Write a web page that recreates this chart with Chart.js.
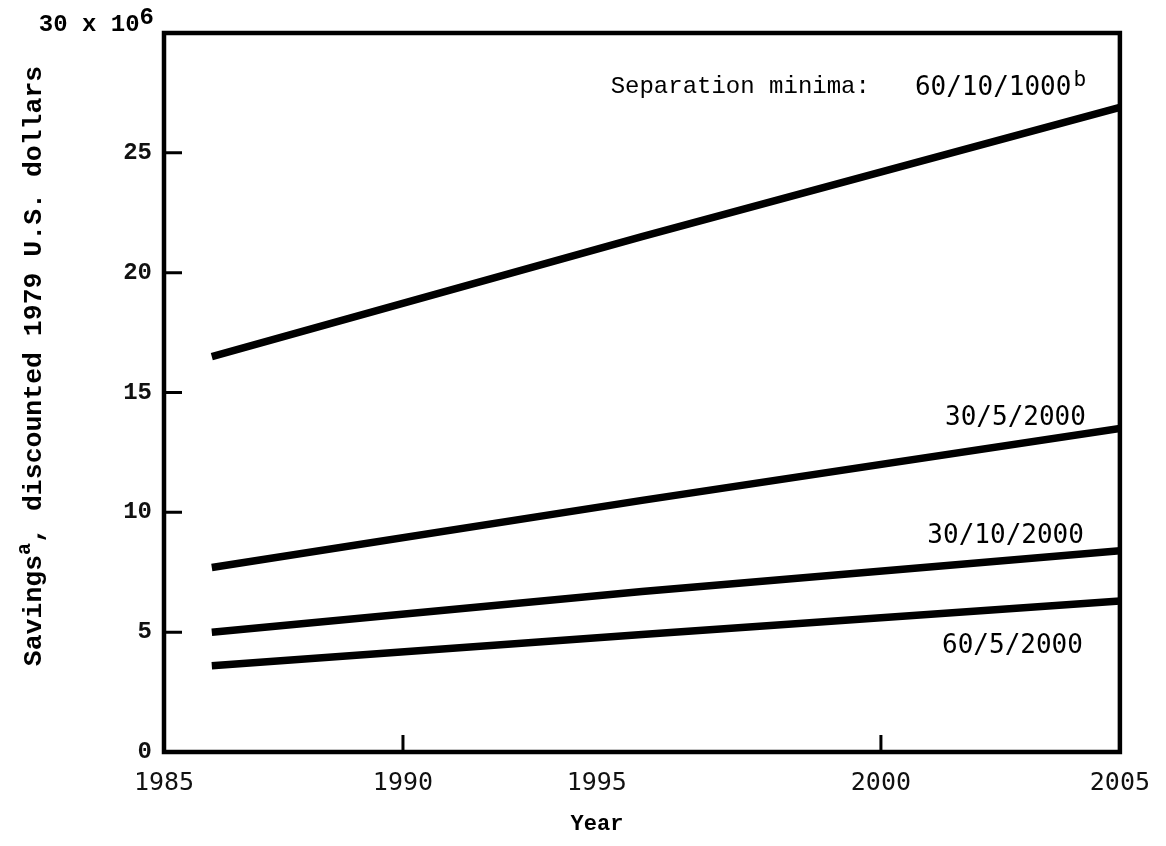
<!DOCTYPE html>
<html><head><meta charset="utf-8">
<script src="https://cdn.jsdelivr.net/npm/chart.js@4"></script>
<style>html,body{margin:0;padding:0;background:#fff;}</style>
</head><body>
<canvas id="c" width="1166" height="846" style="display:block"></canvas>
<script>
// ---- data ----
const years = [1986, 1995, 2005];
const sep60_10_1000 = [16.5, 21.5, 26.9];
const sep30_5_2000 = [7.7, 10.5, 13.5];
const sep30_10_2000 = [5.0, 6.7, 8.4];
const sep60_5_2000 = [3.6, 4.9, 6.3];
const seriesNames = ['60/10/1000', '30/5/2000', '30/10/2000', '60/5/2000'];
const xTickValues = [1985, 1990, 1995, 2000, 2005];
const xTickMarks = [1990, 2000];
const yTickMarks = [5, 10, 15, 20, 25];

function toPoints(vals) { return years.map((yr, i) => ({ x: yr, y: vals[i] })); }
const allSeries = [sep60_10_1000, sep30_5_2000, sep30_10_2000, sep60_5_2000];

const MONO = '"Liberation Mono", "DejaVu Sans Mono", monospace';
const SANSMONO = '"DejaVu Sans Mono", monospace';

const decor = {
  id: 'decor',
  afterDraw(chart) {
    const { ctx, chartArea: a, scales: { x, y } } = chart;
    ctx.save();
    ctx.strokeStyle = '#000';
    ctx.fillStyle = '#000';
    // frame
    ctx.lineWidth = 4.5;
    ctx.strokeRect(a.left, a.top, a.right - a.left, a.bottom - a.top);
    // inward tick marks
    ctx.lineWidth = 3;
    ctx.beginPath();
    yTickMarks.forEach(v => { const py = y.getPixelForValue(v); ctx.moveTo(a.left, py); ctx.lineTo(a.left + 18, py); });
    xTickMarks.forEach(v => { const px = x.getPixelForValue(v); ctx.moveTo(px, a.bottom); ctx.lineTo(px, a.bottom - 17); });
    ctx.stroke();

    // top tick label "30 x 10^6"
    ctx.font = 'bold 24px ' + MONO;
    ctx.textBaseline = 'middle';
    ctx.textAlign = 'right';
    const rx = a.left - 10;
    const p30 = y.getPixelForValue(30);
    ctx.fillText('6', rx, p30 - 15);
    const w6 = ctx.measureText('6').width;
    ctx.fillText('30 x 10', rx - w6, p30 - 8);

    // header label
    ctx.textBaseline = 'alphabetic';
    ctx.textAlign = 'right';
    ctx.font = '24px ' + MONO;
    ctx.fillText('Separation minima:', a.right - 250, a.top + 60);
    ctx.textAlign = 'left';
    ctx.font = '26px ' + SANSMONO;
    ctx.fillText(seriesNames[0], a.right - 205, a.top + 62);
    const wl = ctx.measureText(seriesNames[0]).width;
    ctx.font = '21px ' + SANSMONO;
    ctx.fillText('b', a.right - 205 + wl + 2, a.top + 53);

    // other series labels
    ctx.textAlign = 'right';
    ctx.font = '26px ' + SANSMONO;
    ctx.fillText(seriesNames[1], a.right - 34, a.top + 392);
    ctx.fillText(seriesNames[2], a.right - 36, a.top + 510);
    ctx.fillText(seriesNames[3], a.right - 37, a.top + 620);

    // y axis title (rotated, with superscript a)
    ctx.save();
    ctx.translate(41, 366);
    ctx.rotate(-Math.PI / 2);
    ctx.textAlign = 'left';
    ctx.textBaseline = 'alphabetic';
    const p1 = 'Savings', p2 = 'a', p3 = ', discounted 1979 U.S. dollars';
    const big = 'bold 26.5px ' + MONO, small = 'bold 20px ' + MONO;
    ctx.font = big; const w1 = ctx.measureText(p1).width, w3 = ctx.measureText(p3).width;
    ctx.font = small; const w2 = ctx.measureText(p2).width;
    let sx = -(w1 + w2 + w3) / 2;
    ctx.font = big; ctx.fillText(p1, sx, 0); sx += w1;
    ctx.font = small; ctx.fillText(p2, sx, -11); sx += w2;
    ctx.font = big; ctx.fillText(p3, sx, 0);
    ctx.restore();

    // x axis title
    ctx.textAlign = 'center';
    ctx.textBaseline = 'alphabetic';
    ctx.font = 'bold 22px ' + MONO;
    ctx.fillText('Year', 597, 830);
    ctx.restore();
  }
};

new Chart(document.getElementById('c'), {
  type: 'line',
  data: {
    datasets: allSeries.map((s, i) => ({
      label: seriesNames[i],
      data: toPoints(s),
      borderColor: '#000',
      backgroundColor: '#000',
      borderWidth: 7.5,
      pointRadius: 0,
      tension: 0,
      fill: false,
      borderCapStyle: 'butt'
    }))
  },
  options: {
    responsive: false,
    animation: false,
    devicePixelRatio: 1,
    layout: { padding: { top: 33, right: 44, left: 0, bottom: 0 } },
    plugins: { legend: { display: false }, tooltip: { enabled: false } },
    scales: {
      x: {
        type: 'linear', min: 1985, max: 2005,
        afterBuildTicks: s => { s.ticks = xTickValues.map(v => ({ value: v })); },
        afterFit: s => { s.height = 94; },
        grid: { display: false, drawTicks: false },
        border: { display: false },
        ticks: {
          autoSkip: false, maxRotation: 0, padding: 16, color: '#111',
          font: { family: SANSMONO, size: 25 },
          callback: v => (v === 1995 ? String(v) + '      ' : String(v))
        }
      },
      y: {
        min: 0, max: 30,
        ticks: {
          stepSize: 5, padding: 12, color: '#111',
          font: { family: MONO, size: 24, weight: 'bold' },
          callback: v => (v === 30 ? '' : String(v))
        },
        afterFit: s => { s.width = 164; },
        grid: { display: false, drawTicks: false },
        border: { display: false }
      }
    }
  },
  plugins: [decor]
});
</script>
</body></html>
